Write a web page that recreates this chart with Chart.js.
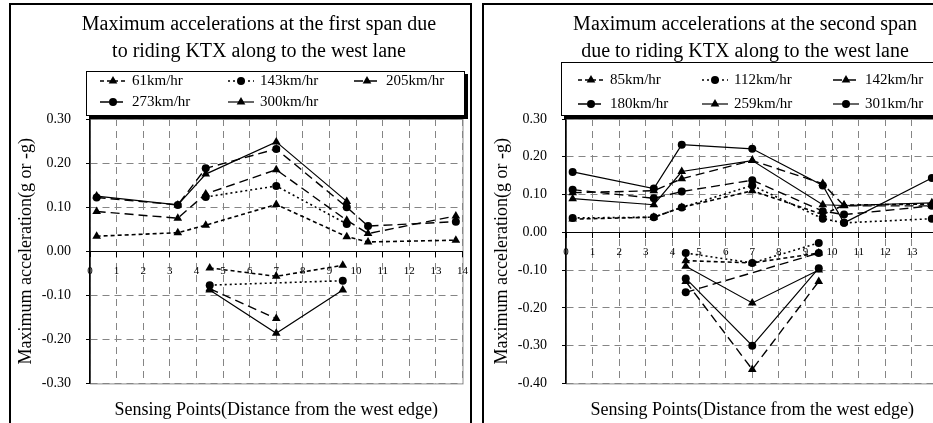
<!DOCTYPE html>
<html>
<head>
<meta charset="utf-8">
<script src="https://cdn.jsdelivr.net/npm/chart.js@4.4.1/dist/chart.umd.min.js"></script>
<style>
  html, body { margin: 0; padding: 0; background: #fff; }
  body { width: 933px; height: 423px; overflow: hidden; position: relative; }
  .frame { position: absolute; top: 3px; height: 460px; border: 2px solid #000; box-sizing: border-box; }
  canvas { position: absolute; top: 0; }
</style>
</head>
<body>
<div class="frame" style="left:9px; width:463px;"></div>
<div class="frame" style="left:482px; width:463px;"></div>
<canvas id="span1" width="476" height="423" style="left:0px"></canvas>
<canvas id="span2" width="476" height="423" style="left:476px"></canvas>
<script>
// sensing points (m from the west edge), upper and lower groups
const sensorPos = [0.25, 3.3, 4.35, 7, 9.65, 10.45, 13.75];
const sensorNeg = [4.5, 7, 9.5];
const xRange = [0, 14];

// first span
const span1Speeds = ['61km/hr', '143km/hr', '205km/hr', '273km/hr', '300km/hr'];
const span1_61Pos = [0.034, 0.042, 0.059, 0.106, 0.033, 0.021, 0.025];
const span1_61Neg = [-0.038, -0.057, -0.032];
const span1_143Pos = [null, null, 0.123, 0.148, 0.062, null, null];
const span1_143Neg = [-0.077, null, -0.067];
const span1_205Pos = [0.09, 0.075, 0.13, 0.185, 0.07, 0.04, 0.08];
const span1_205Neg = [-0.085, -0.153, null];
const span1_273Pos = [0.122, 0.105, 0.188, 0.232, 0.10, 0.057, 0.067];
const span1_273Neg = [null, null, null];
const span1_300Pos = [0.125, 0.105, 0.175, 0.248, 0.113, null, null];
const span1_300Neg = [-0.088, -0.186, -0.088];
const span1YRange = [-0.3, 0.3];

// second span
const span2Speeds = ['85km/hr', '112km/hr', '142km/hr', '180km/hr', '259km/hr', '301km/hr'];
const span2_85Pos = [0.035, 0.04, 0.066, 0.11, 0.047, 0.072, 0.075];
const span2_85Neg = [-0.075, -0.081, -0.055];
const span2_112Pos = [0.038, 0.04, 0.066, 0.124, 0.036, 0.025, 0.036];
const span2_112Neg = [-0.055, -0.081, -0.028];
const span2_142Pos = [0.105, 0.11, 0.142, 0.19, 0.129, 0.07, 0.07];
const span2_142Neg = [-0.13, -0.363, -0.13];
const span2_180Pos = [0.113, 0.09, 0.108, 0.138, 0.056, 0.047, 0.07];
const span2_180Neg = [-0.159, null, -0.055];
const span2_259Pos = [0.089, 0.073, 0.161, 0.19, 0.073, 0.071, 0.078];
const span2_259Neg = [-0.09, -0.187, -0.1];
const span2_301Pos = [0.16, 0.116, 0.232, 0.221, 0.124, 0.025, 0.144];
const span2_301Neg = [-0.122, -0.30, -0.095];
const span2YRange = [-0.4, 0.3];

Chart.defaults.font.family = "'Liberation Serif', 'Times New Roman', serif";
Chart.defaults.color = '#000';

const lineStyles = [
  { dash: [4, 3], width: 1.6, point: 'triangle' },
  { dash: [2, 3], width: 1.6, point: 'circle' },
  { dash: [9, 5], width: 1.4, point: 'triangle' },
  { dash: [9, 5], width: 1.4, point: 'circle' },
  { dash: [], width: 1.2, point: 'triangle' },
  { dash: [], width: 1.2, point: 'circle' }
];
const gridDash = [7, 5];

function segment(xs, ys) {
  return xs.map((x, i) => ({ x: x, y: ys[i] })).filter(p => p.y !== null);
}

// upper group, a break, then lower group
function seriesPoints(pos, neg) {
  return segment(sensorPos, pos).concat([{ x: 14, y: null }], segment(sensorNeg, neg));
}

function makeDatasets(labels, series) {
  return labels.map((label, i) => ({
    label: label,
    data: series[i],
    borderColor: '#000',
    backgroundColor: '#000',
    borderWidth: lineStyles[i].width,
    borderDash: lineStyles[i].dash,
    pointStyle: lineStyles[i].point,
    pointRadius: lineStyles[i].point === 'triangle' ? 5 : 4,
    pointBorderWidth: 0,
    fill: false,
    tension: 0,
    spanGaps: false
  }));
}

// title + boxed legend with drop shadow
const headerPlugin = {
  id: 'header',
  afterDraw(chart, args, opts) {
    const ctx = chart.ctx;
    ctx.save();
    ctx.fillStyle = '#000';
    ctx.font = "20px 'Liberation Serif'";
    ctx.textAlign = 'center';
    ctx.textBaseline = 'alphabetic';
    opts.title.forEach((t, i) => ctx.fillText(t, opts.titleX, 30 + i * 27));

    const b = opts.box;
    ctx.fillRect(b.x + 3, b.y + 3, b.w, b.h);
    ctx.fillStyle = '#fff';
    ctx.fillRect(b.x, b.y, b.w, b.h);
    ctx.strokeStyle = '#000';
    ctx.lineWidth = 1;
    ctx.strokeRect(b.x + 0.5, b.y + 0.5, b.w - 1, b.h - 1);

    ctx.font = "15px 'Liberation Serif'";
    ctx.textAlign = 'left';
    ctx.textBaseline = 'middle';
    chart.data.datasets.forEach((ds, i) => {
      const x = opts.cols[i % 3];
      const y = opts.rows[Math.floor(i / 3)];
      ctx.setLineDash(ds.borderDash);
      ctx.lineWidth = ds.borderWidth;
      ctx.beginPath();
      ctx.moveTo(x, y);
      ctx.lineTo(x + 26, y);
      ctx.stroke();
      ctx.setLineDash([]);
      ctx.fillStyle = '#000';
      Chart.helpers.drawPoint(ctx, { pointStyle: ds.pointStyle, radius: ds.pointRadius, rotation: 0, borderWidth: 0 }, x + 13, y);
      ctx.fillText(ds.label, x + 32, y);
    });
    ctx.restore();
  }
};

// grey solid outline of the plot area
const plotFrame = {
  id: 'plotFrame',
  beforeDraw(chart) {
    const a = chart.chartArea;
    const ctx = chart.ctx;
    ctx.save();
    ctx.strokeStyle = '#8c8c8c';
    ctx.lineWidth = 1;
    ctx.strokeRect(a.left + 0.5, a.top + 0.5, a.right - a.left, a.bottom - a.top);
    ctx.restore();
  }
};

function makeChart(id, labels, series, yRange, header) {
  return new Chart(document.getElementById(id), {
    type: 'line',
    data: { datasets: makeDatasets(labels, series) },
    plugins: [plotFrame, headerPlugin],
    options: {
      responsive: false,
      animation: false,
      layout: { padding: { top: 119, right: 13, bottom: 0, left: 0 } },
      plugins: {
        legend: { display: false },
        tooltip: { enabled: false },
        subtitle: {
          display: true,
          position: 'bottom',
          fullSize: false,
          text: 'Sensing Points(Distance from the west edge)',
          font: { size: 18, weight: 'normal' },
          color: '#000',
          padding: { top: 16, bottom: 2 }
        },
        header: header
      },
      scales: {
        x: {
          type: 'linear',
          position: { y: 0 },
          min: xRange[0],
          max: xRange[1],
          ticks: { stepSize: 1, font: { size: 11 }, padding: 8, maxRotation: 0 },
          grid: { color: '#858585', tickColor: '#000', tickLength: 5, lineWidth: 1 },
          border: { color: '#000', width: 1, dash: gridDash }
        },
        y: {
          min: yRange[0],
          max: yRange[1],
          afterFit: (scale) => { scale.width = 90; },
          ticks: {
            stepSize: 0.1,
            font: { size: 14 },
            padding: 15,
            callback: (v) => (Math.abs(v) < 1e-9 ? 0 : v).toFixed(2)
          },
          grid: { color: '#858585', tickColor: '#000', tickLength: 4, lineWidth: 1 },
          border: { color: '#000', width: 1.5, dash: gridDash },
          title: {
            display: true,
            text: 'Maximum acceleration(g or -g)',
            font: { size: 18 },
            padding: { top: 15, bottom: 0 }
          }
        }
      }
    }
  });
}

makeChart('span1', span1Speeds, [
  seriesPoints(span1_61Pos, span1_61Neg),
  seriesPoints(span1_143Pos, span1_143Neg),
  seriesPoints(span1_205Pos, span1_205Neg),
  seriesPoints(span1_273Pos, span1_273Neg),
  seriesPoints(span1_300Pos, span1_300Neg)
], span1YRange, {
  title: ['Maximum accelerations at the first span due', 'to riding KTX along to the west lane'],
  titleX: 259,
  box: { x: 86, y: 71, w: 379, h: 45 },
  cols: [100, 228, 354],
  rows: [81, 102]
});

makeChart('span2', span2Speeds, [
  seriesPoints(span2_85Pos, span2_85Neg),
  seriesPoints(span2_112Pos, span2_112Neg),
  seriesPoints(span2_142Pos, span2_142Neg),
  seriesPoints(span2_180Pos, span2_180Neg),
  seriesPoints(span2_259Pos, span2_259Neg),
  seriesPoints(span2_301Pos, span2_301Neg)
], span2YRange, {
  title: ['Maximum accelerations at the second span', 'due to riding KTX along to the west lane'],
  titleX: 269,
  box: { x: 85, y: 62, w: 400, h: 54 },
  cols: [102, 226, 357],
  rows: [80, 104]
});
</script>
</body>
</html>
